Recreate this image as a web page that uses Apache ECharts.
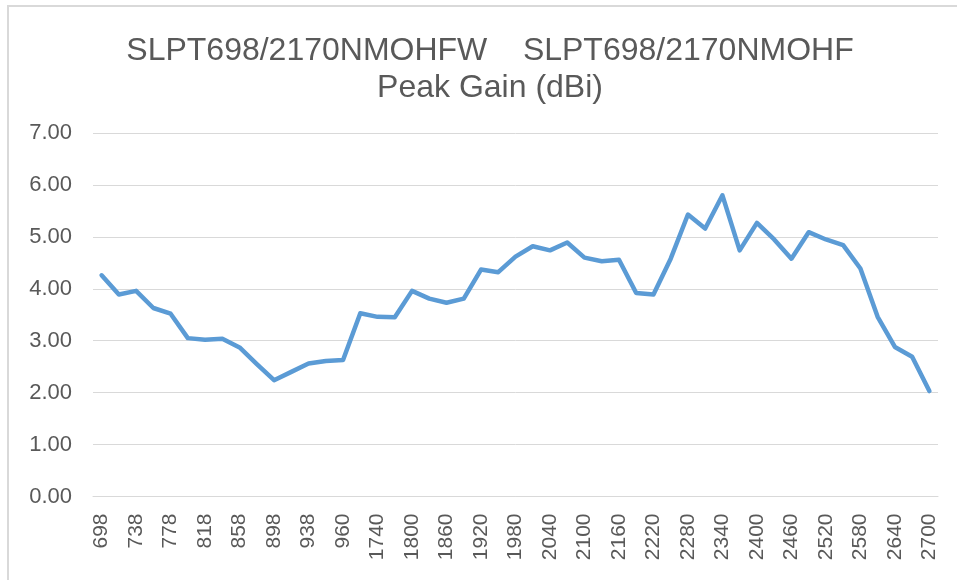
<!DOCTYPE html>
<html>
<head>
<meta charset="utf-8">
<title>Peak Gain</title>
<script src="https://cdn.jsdelivr.net/npm/echarts@6/dist/echarts.min.js"></script>
<style>
  html, body { margin: 0; padding: 0; background: #fff; }
  #chart { width: 957px; height: 580px; }
</style>
</head>
<body>
<div id="chart"></div>
<script>
// frequency (MHz)
const freqs = [
  698, 718, 738, 758, 778, 798, 818, 838, 858, 878, 898, 918, 938, 950, 960,
  1710, 1740, 1770, 1800, 1830, 1860, 1890, 1920, 1950, 1980, 2010, 2040,
  2070, 2100, 2130, 2160, 2190, 2220, 2250, 2280, 2310, 2340, 2370, 2400,
  2430, 2460, 2490, 2520, 2550, 2580, 2610, 2640, 2670, 2700
]
// peak gain (dBi)
const peakGain = [
  4.26, 3.89, 3.96, 3.63, 3.52, 3.05, 3.02, 3.04, 2.87, 2.55, 2.24, 2.40, 2.56, 2.61, 2.63,
  3.53, 3.46, 3.45, 3.96, 3.81, 3.73, 3.81, 4.37, 4.32, 4.62, 4.82, 4.74,
  4.89, 4.60, 4.53, 4.56, 3.92, 3.89, 4.58, 5.43, 5.16, 5.80, 4.74, 5.27,
  4.95, 4.58, 5.09, 4.95, 4.84, 4.39, 3.46, 2.88, 2.69, 2.03
]
const titleLines = ['SLPT698/2170NMOHFW    SLPT698/2170NMOHF', 'Peak Gain (dBi)']

const textColor = '#595959'
const gridColor = '#D9D9D9'
const font = '"Liberation Sans", Arial, sans-serif'

const myChart = echarts.init(document.getElementById('chart'))
const option = {
  backgroundColor: '#fff',
  animation: false,
  title: {
    text: titleLines.join('\n'),
    left: 485,
    textAlign: 'center',
    top: 28,
    textStyle: {
      color: textColor,
      fontFamily: font,
      fontWeight: 'normal',
      fontSize: 32,
      lineHeight: 37
    }
  },
  graphic: [
    {
      type: 'rect',
      shape: { x: 8, y: 6, width: 980, height: 600 },
      style: { fill: 'none', stroke: gridColor, lineWidth: 2 },
      silent: true
    }
  ],
  grid: { left: 93, right: 19, top: 133, bottom: 83.5 },
  xAxis: {
    type: 'category',
    data: freqs,
    boundaryGap: true,
    axisLine: { lineStyle: { color: gridColor, width: 1 } },
    axisTick: { show: false },
    axisLabel: {
      interval: 1,
      rotate: 90,
      margin: 17,
      color: textColor,
      fontFamily: font,
      fontSize: 21
    }
  },
  yAxis: {
    type: 'value',
    min: 0,
    max: 7,
    interval: 1,
    axisLine: { show: false },
    axisTick: { show: false },
    splitLine: { lineStyle: { color: gridColor, width: 1 } },
    axisLabel: {
      margin: 21,
      color: textColor,
      fontFamily: font,
      fontSize: 22,
      formatter: v => v.toFixed(2)
    }
  },
  series: [
    {
      name: 'Peak Gain',
      type: 'line',
      data: peakGain,
      showSymbol: false,
      lineStyle: { color: '#5B9BD5', width: 4.5, cap: 'round', join: 'round' },
      itemStyle: { color: '#5B9BD5' }
    }
  ]
}
myChart.setOption(option)
</script>
</body>
</html>
